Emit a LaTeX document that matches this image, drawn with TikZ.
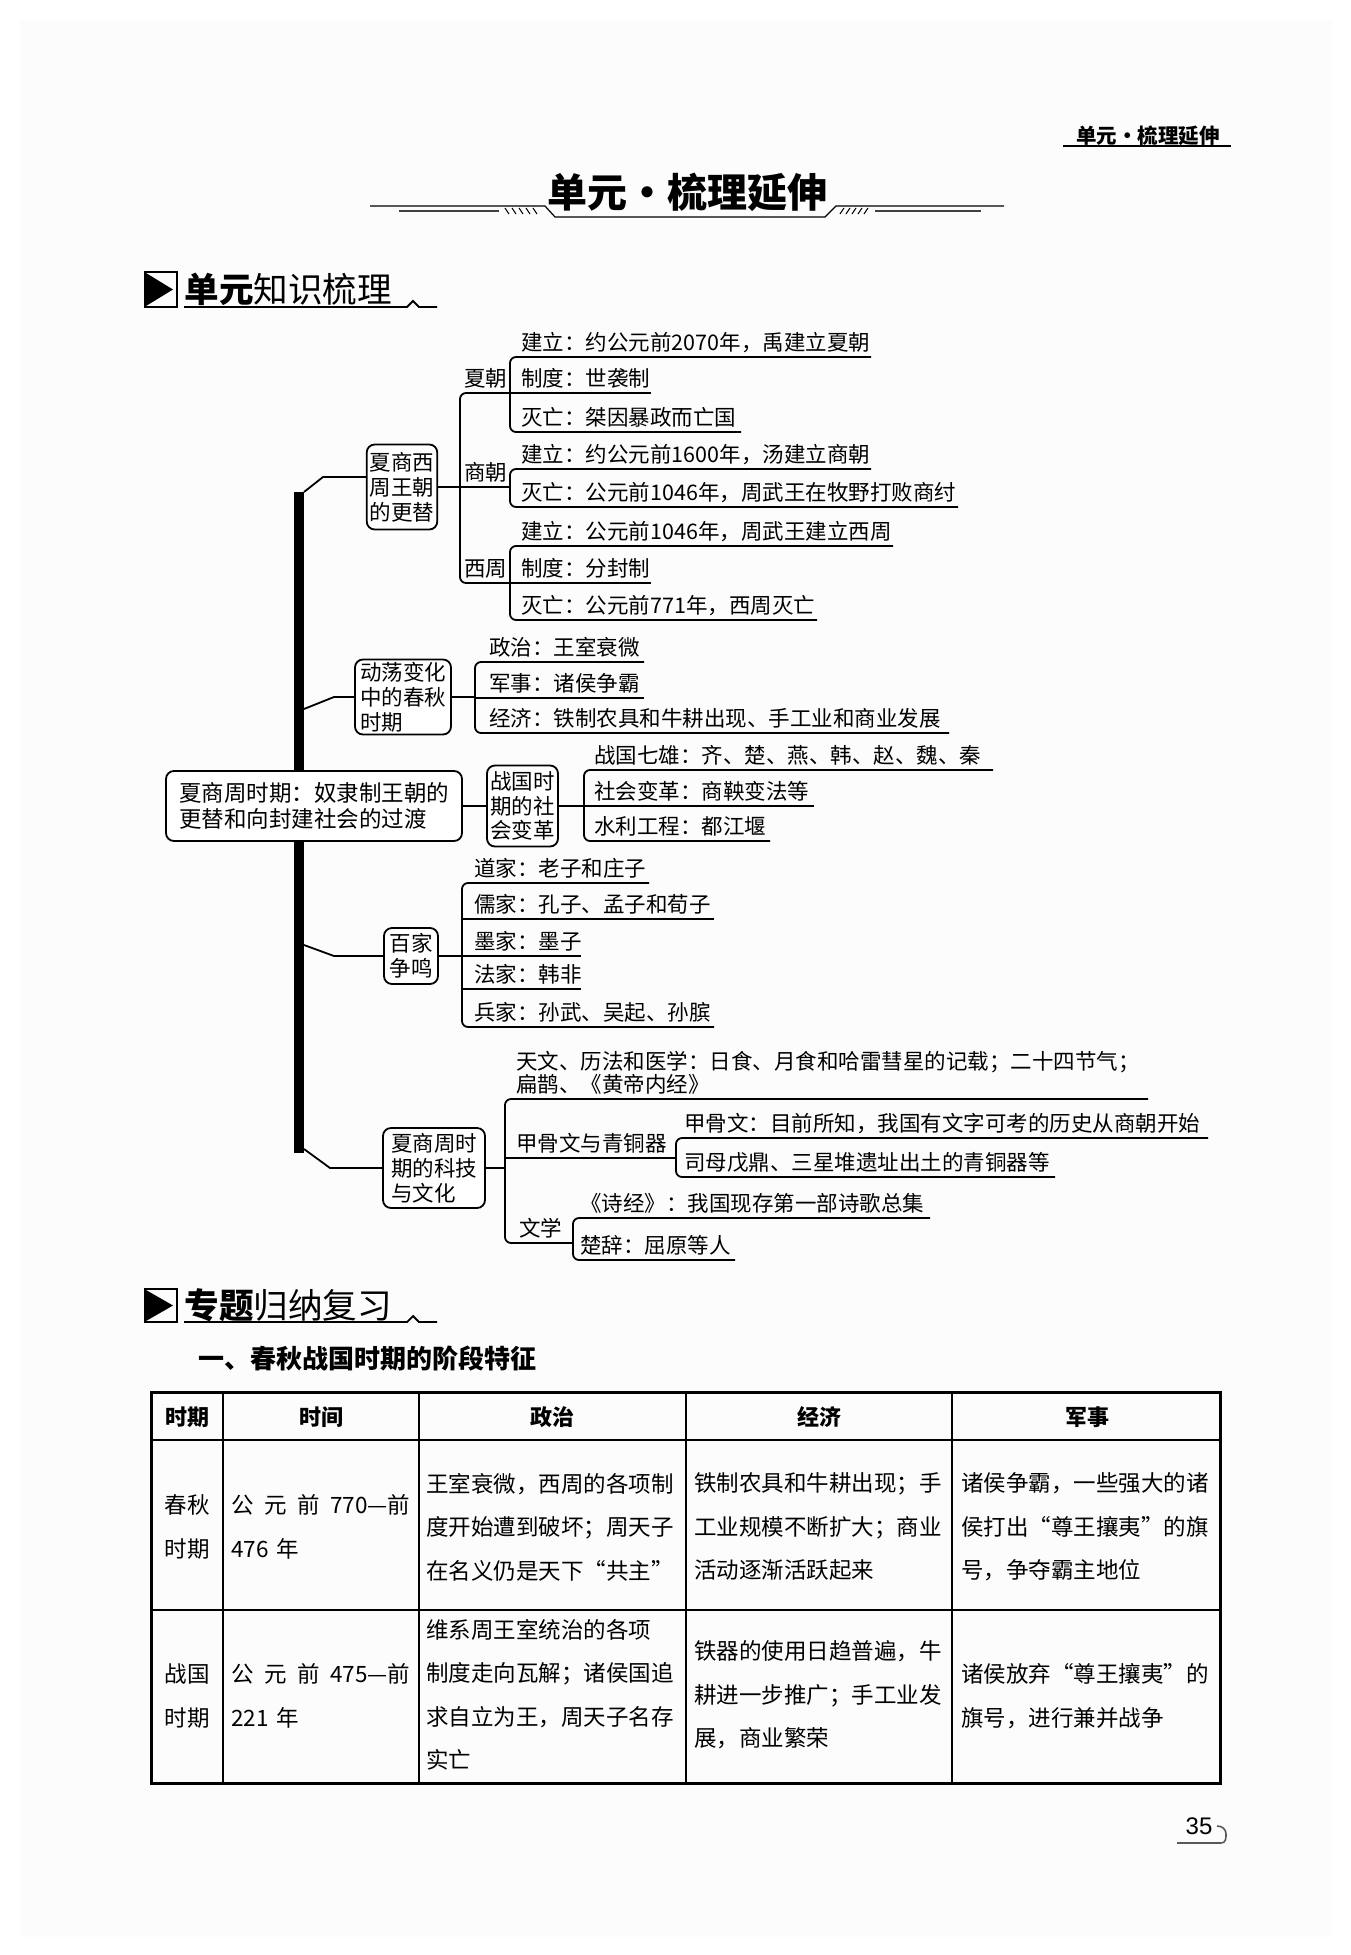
\documentclass[tikz,border=0pt]{standalone}
\usepackage{fontspec}
\setmainfont{Noto Sans CJK SC}
\newfontfamily\pgnumfont{Liberation Sans}
\usetikzlibrary{calc}
\definecolor{pagebg}{RGB}{252,252,252}
\newcommand\mmfont{\fontsize{10.75pt}{11.5pt}\selectfont}
\newcommand\bxfont{\fontsize{10.75pt}{12.4pt}\selectfont}
\newcommand\mainfnt{\fontsize{11.25pt}{13pt}\selectfont}
\newcommand\tbfont{\fontsize{11.25pt}{21.75pt}\selectfont}
\newcommand\thfont{\fontsize{11pt}{13pt}\selectfont\bfseries}
\tikzset{
  link/.style={line width=0.9pt, rounded corners=3pt},
  conn/.style={line width=0.9pt},
  bx/.style={draw, line width=0.9pt, rounded corners=4pt, fill=white, inner xsep=1.5pt, inner ysep=1pt, align=left, font=\bxfont},
  lf/.style={anchor=base west, inner sep=0pt, font=\mmfont},
  th/.style={font=\thfont, inner sep=0pt},
  td/.style={font=\tbfont, inner sep=0pt, align=left},
}
\begin{document}
\begin{tikzpicture}[x=0.5pt,y=-0.5pt]
\useasboundingbox (0,0) rectangle (1350,1955);
\fill[white] (0,0) rectangle (1350,1955);
\fill[pagebg] (20,20) rectangle (1332,1937);

% running header
\node[font=\fontsize{10.25pt}{12pt}\selectfont\bfseries, inner sep=0pt] (hdr) at (1148,136) {单元・梳理延伸};
\draw[line width=0.8pt] (1063,146) -- (1231,146);

% title
\node[font=\fontsize{20pt}{24pt}\selectfont\bfseries, inner sep=0pt] (title) at (687,192) {单元・梳理延伸};
\draw[line width=0.6pt] (370,206) -- (545,206) -- (555,217) -- (825,217) -- (836,206) -- (1004,206);
\draw[line width=1.2pt, black!75] (399,211) -- (499,211);
\draw[line width=1.2pt, black!75] (875,211) -- (981,211);
\foreach \i in {0,...,4} {
  \draw[line width=0.5pt] ({505+7*\i},208) -- ({509+7*\i},214);
  \draw[line width=0.5pt] ({840+6*\i},214) -- ({844+6*\i},208);
}

% section 1 heading
\draw[line width=0.9pt] (145,272) rectangle (177,307);
\fill (146,273) -- (173,289.5) -- (146,306) -- cycle;
\node[anchor=west, inner sep=0pt, font=\fontsize{17.3pt}{19pt}\selectfont] (sec1) at (184,289) {\textbf{单元}知识梳理};
\draw[line width=0.9pt] (184,307) -- (407,307) -- (413,301) -- (419,307) -- (437,307);

% ===== mind map =====
\fill (294,492) rectangle (304,1153);

% boxes
\node[bx, minimum width=35pt, minimum height=42.5pt] (b1) at (402,487) {夏商西\\周王朝\\的更替};
\node[bx, minimum width=48pt, minimum height=37.5pt] (b2) at (403,697) {动荡变化\\中的春秋\\时期};
\node[bx, font=\mainfnt, minimum width=148pt, minimum height=35pt] (b3) at (314,806) {夏商周时期：奴隶制王朝的\\更替和向封建社会的过渡};
\node[bx, minimum width=35.5pt, minimum height=40.5pt] (b4) at (522.5,806) {战国时\\期的社\\会变革};
\node[bx, minimum width=27pt, minimum height=28pt] (b5) at (411,956) {百家\\争鸣};
\node[bx, minimum width=51pt, minimum height=40pt] (b6) at (434,1168) {夏商周时\\期的科技\\与文化};

% connectors from the bar
\coordinate (j1) at (304,492); \coordinate (k1) at (323,477);
\draw[conn] (j1) -- (k1) -- (k1 -| b1.west);
\coordinate (j2) at (304,709); \coordinate (k2) at (334,697);
\draw[conn] (j2) -- (k2) -- (k2 -| b2.west);
\coordinate (j4) at (304,945); \coordinate (k4) at (334,956);
\draw[conn] (j4) -- (k4) -- (k4 -| b5.west);
\coordinate (j5) at (304,1149); \coordinate (k5) at (330,1168);
\draw[conn] (j5) -- (k5) -- (k5 -| b6.west);
\draw[conn] (b3.east) -- (b4.west);

% group 1: Xia Shang Western Zhou
\coordinate (sp1) at (460,487);
\draw[conn] (b1.east) -- (b1.east -| sp1);
\draw[link] (510,393) -- (460,393) -- (460,583) -- (510,583);
\draw[link] (460,487) -- (510,487);
\node[lf] (xz) at (464,386) {夏朝};
\node[lf] (sz) at (464,480) {商朝};
\node[lf] (wz) at (464,576) {西周};
\node[lf] (xa) at (521,350) {建立：约公元前2070年，禹建立夏朝};
\node[lf] (xb) at (521,386) {制度：世袭制};
\node[lf] (xc) at (521,425) {灭亡：桀因暴政而亡国};
\draw[link] (871,357) -- (510,357) -- (510,432) -- (741,432);
\draw[link] (510,393) -- (651,393);
\node[lf] (sa) at (521,462) {建立：约公元前1600年，汤建立商朝};
\node[lf] (sb) at (521,500) {灭亡：公元前1046年，周武王在牧野打败商纣};
\draw[link] (871,469) -- (510,469) -- (510,507) -- (958,507);
\node[lf] (wa) at (521,539) {建立：公元前1046年，周武王建立西周};
\node[lf] (wb) at (521,576) {制度：分封制};
\node[lf] (wc) at (521,613) {灭亡：公元前771年，西周灭亡};
\draw[link] (893,546) -- (510,546) -- (510,620) -- (817,620);
\draw[link] (510,583) -- (651,583);

% group 2: Spring and Autumn
\coordinate (sp2) at (475,697);
\draw[conn] (b2.east) -- (b2.east -| sp2);
\node[lf] (za) at (489,655) {政治：王室衰微};
\node[lf] (zb) at (489,691) {军事：诸侯争霸};
\node[lf] (zc) at (489,726) {经济：铁制农具和牛耕出现、手工业和商业发展};
\draw[link] (644,662) -- (475,662) -- (475,733) -- (949,733);
\draw[link] (475,698) -- (644,698);

% group 4: Warring States
\coordinate (sp4) at (584,806);
\draw[conn] (b4.east) -- (b4.east -| sp4);
\node[lf] (ga) at (594,763) {战国七雄：齐、楚、燕、韩、赵、魏、秦};
\node[lf] (gb) at (594,799) {社会变革：商鞅变法等};
\node[lf] (gc) at (594,834) {水利工程：都江堰};
\draw[link] (993,770) -- (584,770) -- (584,841) -- (770,841);
\draw[link] (584,806) -- (814,806);

% group 5: hundred schools
\coordinate (sp5) at (462,956);
\draw[conn] (b5.east) -- (b5.east -| sp5);
\node[lf] (pa) at (474,876) {道家：老子和庄子};
\node[lf] (pb) at (474,912) {儒家：孔子、孟子和荀子};
\node[lf] (pc) at (474,949) {墨家：墨子};
\node[lf] (pd) at (474,982) {法家：韩非};
\node[lf] (pe) at (474,1020) {兵家：孙武、吴起、孙膑};
\draw[link] (649,883) -- (462,883) -- (462,1027) -- (714,1027);
\draw[link] (462,919) -- (714,919);
\draw[link] (462,956) -- (581,956);
\draw[link] (462,989) -- (581,989);

% group 6: science and culture
\coordinate (sp6) at (505,1168);
\draw[conn] (b6.east) -- (b6.east -| sp6);
\node[lf, anchor=west, align=left, font=\fontsize{10.75pt}{11.5pt}\selectfont] (ta) at (516,1073) {天文、历法和医学：日食、月食和哈雷彗星的记载；二十四节气；\\扁鹊、《黄帝内经》};
\node[lf] (tb) at (516,1151) {甲骨文与青铜器};
\node[lf] (tc) at (684,1131) {甲骨文：目前所知，我国有文字可考的历史从商朝开始};
\node[lf] (td) at (684,1170) {司母戊鼎、三星堆遗址出土的青铜器等};
\node[lf] (te) at (519,1236) {文学};
\node[lf] (tf) at (580,1211) {《诗经》：我国现存第一部诗歌总集};
\node[lf] (tg) at (580,1253) {楚辞：屈原等人};
\draw[link] (1148,1099) -- (505,1099) -- (505,1243) -- (573,1243);
\draw[link] (505,1158) -- (676,1158);
\draw[link] (1208,1138) -- (676,1138) -- (676,1177) -- (1055,1177);
\draw[link] (930,1218) -- (573,1218) -- (573,1260) -- (735,1260);

% section 2 heading
\draw[line width=0.9pt] (145,1289) rectangle (177,1322);
\fill (146,1290) -- (173,1305.5) -- (146,1321) -- cycle;
\node[anchor=west, inner sep=0pt, font=\fontsize{17.3pt}{19pt}\selectfont] (sec2) at (184,1305) {\textbf{专题}归纳复习};
\draw[line width=0.9pt] (184,1322) -- (407,1322) -- (413,1316) -- (419,1322) -- (437,1322);
\node[anchor=west, inner sep=0pt, font=\fontsize{13pt}{15pt}\selectfont\bfseries] (sub) at (198,1358) {一、春秋战国时期的阶段特征};

% table
\draw[line width=1.5pt] (151,1392) rectangle (1220,1783);
\draw[line width=1.2pt] (151,1440) -- (1220,1440);
\draw[line width=1pt] (151,1610) -- (1220,1610);
\foreach \x in {223,419,686,952} \draw[line width=0.6pt] (\x,1392) -- (\x,1783);
\node[th] (h1) at (187,1417) {时期};
\node[th] (h2) at (321,1417) {时间};
\node[th] (h3) at (552,1417) {政治};
\node[th] (h4) at (819,1417) {经济};
\node[th] (h5) at (1087,1417) {军事};

\node[td] (r1c1) at (187,1527) {春秋\\时期};
\node[td, anchor=west, text width=89.5pt] (r1c2) at (231,1527) {公\hfill 元\hfill 前\hfill 770—前\\476 年};
\node[td, anchor=west] (r1c3) at (426,1527) {王室衰微，西周的各项制\\度开始遭到破坏；周天子\\在名义仍是天下“共主”};
\node[td, anchor=west] (r1c4) at (694,1527) {铁制农具和牛耕出现；手\\工业规模不断扩大；商业\\活动逐渐活跃起来};
\node[td, anchor=west] (r1c5) at (961,1527) {诸侯争霸，一些强大的诸\\侯打出“尊王攘夷”的旗\\号，争夺霸主地位};

\node[td] (r2c1) at (187,1696) {战国\\时期};
\node[td, anchor=west, text width=89.5pt] (r2c2) at (231,1696) {公\hfill 元\hfill 前\hfill 475—前\\221 年};
\node[td, anchor=west] (r2c3) at (426,1695) {维系周王室统治的各项\\制度走向瓦解；诸侯国追\\求自立为王，周天子名存\\实亡};
\node[td, anchor=west] (r2c4) at (694,1695) {铁器的使用日趋普遍，牛\\耕进一步推广；手工业发\\展，商业繁荣};
\node[td, anchor=west] (r2c5) at (961,1696) {诸侯放弃“尊王攘夷”的\\旗号，进行兼并战争};

% page number
\node[font=\pgnumfont\fontsize{12pt}{14pt}\selectfont, inner sep=0pt] (pg) at (1199,1826) {35};
\draw[line width=0.8pt, black!65] (1177,1843) -- (1221,1843) .. controls (1226,1843) and (1226,1838) .. (1226,1834) .. controls (1226,1829) and (1222,1826) .. (1217,1826);
\end{tikzpicture}
\end{document}
